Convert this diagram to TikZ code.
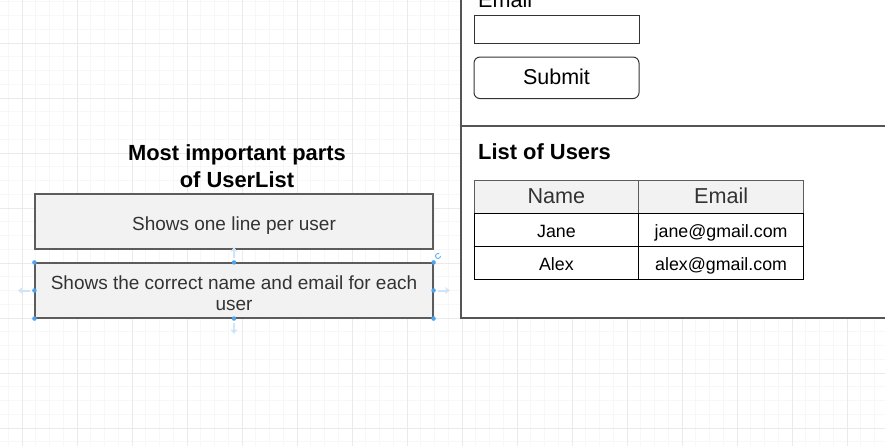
\documentclass[tikz,border=0pt]{standalone}
\usepackage{fontspec}
\setmainfont{Liberation Sans}
\usetikzlibrary{arrows.meta}
\definecolor{gridminor}{HTML}{F7F7F7}
\definecolor{gridmajor}{HTML}{EAEAEA}
\definecolor{boxfill}{HTML}{F2F2F2}
\definecolor{boxline}{HTML}{5C5C5C}
\definecolor{textgray}{HTML}{333333}
\definecolor{panelline}{HTML}{555555}
\definecolor{handleblue}{HTML}{4DA3EC}
\definecolor{handlelight}{HTML}{CFE4F7}
\begin{document}
\begin{tikzpicture}[x=1pt,y=-1pt,
  gminor/.style={draw=gridminor,line width=0.8pt},
  gmajor/.style={draw=gridmajor,line width=0.8pt},
  notebox/.style={draw=boxline,fill=boxfill,line width=1.1pt,minimum width=398pt,minimum height=55pt,inner sep=0pt,align=center,text=textgray,font=\fontsize{19}{21.5}\selectfont},
  titletext/.style={font=\bfseries\fontsize{21.9}{26.6}\selectfont,align=center,inner sep=0pt},
  panel/.style={draw=panelline,line width=1.1pt},
  field/.style={draw=black!80,line width=1pt,minimum width=165pt,inner sep=0pt},
  cell/.style={draw=black,line width=1pt,minimum width=164.7pt,minimum height=33pt,inner sep=0pt,text height=13.8pt,text depth=0pt,font=\fontsize{17.8}{20}\selectfont},
  headcell/.style={draw=boxline,fill=boxfill,line width=1pt,minimum width=164.7pt,minimum height=33pt,inner sep=0pt,text height=13.4pt,text depth=0pt,text=textgray,font=\fontsize{21.6}{24}\selectfont},
  handle/.style={fill=handleblue,circle,inner sep=0pt,minimum size=4.5pt},
  harrow/.style={draw=handlelight,line width=2pt,-{Stealth[length=5pt,width=7pt]}}
]
\useasboundingbox (0,0) rectangle (885,446);
\begin{scope}
\clip (0,0) rectangle (885,446);
% grid
\foreach \k in {0,...,64} \draw[gminor] ({8.25+13.75*\k},0) -- ({8.25+13.75*\k},446);
\foreach \k in {0,...,32} \draw[gminor] (0,{1.75+13.75*\k}) -- (885,{1.75+13.75*\k});
\foreach \k in {0,...,15} \draw[gmajor] ({22+55*\k},0) -- ({22+55*\k},446);
\foreach \k in {0,...,7} \draw[gmajor] (0,{43+55*\k}) -- (885,{43+55*\k});

% right panel
\fill[white] (461,-5) rectangle (890,318);
\draw[panel] (461,-5) -- (461,318) -- (890,318);
\draw[panel] (461,126) -- (890,126);

\node[anchor=base west,inner sep=0pt,font=\fontsize{21.6}{24}\selectfont] (emaillbl) at (478,8) {Email};
\node[field,minimum height=28pt] (emailfield) at (556.5,30) {};
\node[field,rounded corners=6pt,minimum height=41.5pt,text height=13pt,text depth=0pt,font=\fontsize{21.5}{24}\selectfont] (submit) at (556.5,77.8) {Submit};

\node[anchor=base west,inner sep=0pt,font=\bfseries\fontsize{21.9}{24}\selectfont] (listtitle) at (478,160) {List of Users};

\node[headcell] (hname) at (556.4,197.3) {Name};
\node[headcell] (hemail) at (721.1,197.3) {Email};
\node[cell] (c11) at (556.4,230.3) {Jane};
\node[cell] (c12) at (721.1,230.3) {jane@gmail.com};
\node[cell] (c21) at (556.4,263.3) {Alex};
\node[cell] (c22) at (721.1,263.3) {alex@gmail.com};

% left side
\node[titletext,text height=38pt,text depth=0pt] (title) at (237,168.3) {Most important parts\\of UserList};
\node[notebox,text height=18.4pt,text depth=0pt] (b1) at (234,221.5) {Shows one line per user};
\node[notebox,text height=40pt,text depth=0pt] (b2) at (234,290.5) {Shows the correct name and email for each\\user};

% selection handles
\draw[harrow] (30,290.5) -- (18,290.5);
\draw[harrow] (438,290.5) -- (450,290.5);
\draw[harrow] (234,258) -- (234,247);
\draw[harrow] (234,323) -- (234,334);
\foreach \p in {b2.north west,b2.north,b2.north east,b2.west,b2.east,b2.south west,b2.south,b2.south east}
  \node[handle] at (\p) {};
\draw[handleblue,line width=0.8pt] (440.5,256) arc (0:300:2.5);
\end{scope}
\end{tikzpicture}
\end{document}
